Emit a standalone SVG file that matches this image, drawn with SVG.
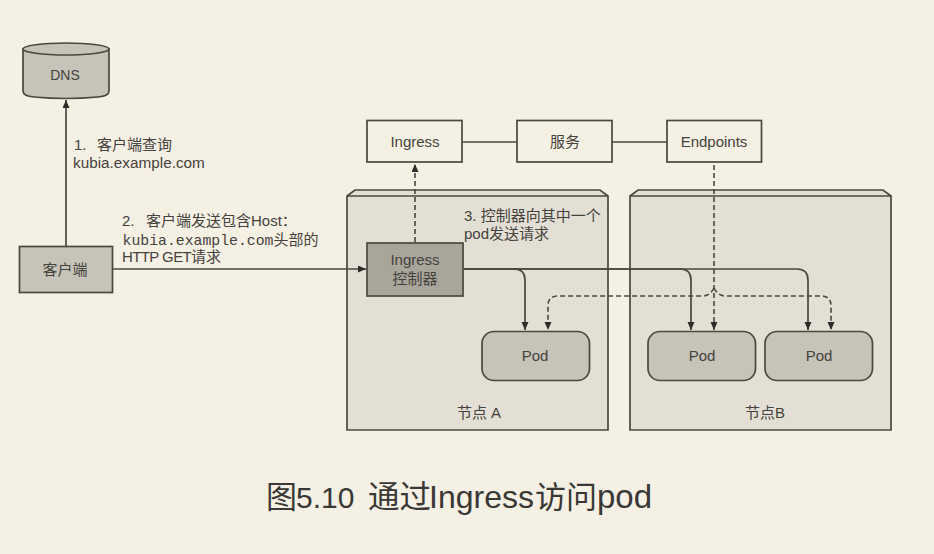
<svg xmlns="http://www.w3.org/2000/svg" width="934" height="554" viewBox="0 0 934 554">
<style>
text{font-family:"Liberation Sans","Noto Sans CJK SC",sans-serif;fill:#45423c;font-size:15px}
.c{text-anchor:middle}
.box{fill:#f5f0e4;stroke:#4a473f;stroke-width:1.7}
.node{fill:#e3dfd4;stroke:#4a473f;stroke-width:1.7}
.pod{fill:#c6c3b9;stroke:#4a473f;stroke-width:1.7}
.line{fill:none;stroke:#4a473f;stroke-width:1.7}
.dash{fill:none;stroke:#4a473f;stroke-width:1.6;stroke-dasharray:5 3}
.mono{font-family:"Liberation Mono","Noto Sans CJK SC",monospace;font-size:14.800px}
</style>
<defs>
<marker id="a" markerUnits="userSpaceOnUse" markerWidth="9" markerHeight="8" refX="8" refY="3.500" orient="auto"><path d="M0 0L8 3.500L0 7Z" fill="#2e2c28"/></marker>
</defs>
<rect width="934" height="554" fill="#f5f0e4"/>
<g id="node-a">
<path class="node" d="M347 196L355 190H600L608 196V430H347Z"/><path class="line" d="M347 196H608"/>
<text class="c" x="479" y="418">节点 A</text>
</g>
<g id="node-b">
<path class="node" d="M630 196L638 190H883L891 196V430H630Z"/><path class="line" d="M630 196H891"/>
<text class="c" x="765" y="418">节点B</text>
</g>
<g id="connectors">
<path class="line" marker-end="url(#a)" d="M66 246V100"/>
<path class="line" marker-end="url(#a)" d="M113 269H366"/>
<path class="line" d="M462 142H517M612 142H667"/>
<path class="dash" marker-end="url(#a)" d="M415 242V164"/>
<path class="line" marker-end="url(#a)" d="M464 269H514Q525 269 525 280V330"/>
<path class="line" marker-end="url(#a)" d="M464 269H680Q691 269 691 280V330"/>
<path class="line" marker-end="url(#a)" d="M464 269H797Q808 269 808 280V330"/>
<path class="dash" marker-end="url(#a)" d="M714 165V330"/>
<path class="dash" marker-end="url(#a)" d="M714 288Q710 296 702 296H558Q548 296 548 306V330"/>
<path class="dash" marker-end="url(#a)" d="M714 288Q718 296 726 296H821Q831 296 831 306V330"/>
</g>
<g id="dns">
<path d="M23 49V91Q23 96 34 97Q66 100 98 97Q109 96 109 91V49Z" fill="#c6c3b9" stroke="#4a473f" stroke-width="1.7"/>
<ellipse cx="66" cy="49" rx="43" ry="6" fill="#c6c3b9" stroke="#4a473f" stroke-width="1.7"/>
<text class="c" x="65" y="80" style="font-size:14px">DNS</text>
</g>
<g id="client">
<rect class="pod" x="19.500" y="246.500" width="93" height="46"/>
<text class="c" x="65" y="275">客户端</text>
</g>
<g id="ingress"><rect class="box" x="367" y="120.500" width="95" height="41.500"/><text class="c" x="415" y="147">Ingress</text></g>
<g id="service"><rect class="box" x="517" y="120.500" width="95" height="41.500"/><text class="c" x="565" y="147">服务</text></g>
<g id="endpoints"><rect class="box" x="667" y="120.500" width="94.500" height="41.500"/><text class="c" x="714" y="147">Endpoints</text></g>
<g id="ingress-controller">
<rect x="367" y="243" width="96" height="53" fill="#a8a59a" stroke="#4a473f" stroke-width="1.7"/>
<text class="c" x="415" y="265">Ingress</text><text class="c" x="415" y="284">控制器</text>
</g>
<g id="pod-a"><rect class="pod" x="482" y="331.500" width="107.500" height="49" rx="12"/><text class="c" x="535" y="361">Pod</text></g>
<g id="pod-b1"><rect class="pod" x="648" y="331.500" width="107.500" height="49" rx="12"/><text class="c" x="702" y="361">Pod</text></g>
<g id="pod-b2"><rect class="pod" x="765" y="331.500" width="107.500" height="49" rx="12"/><text class="c" x="819" y="361">Pod</text></g>
<g id="labels">
<text x="74" y="150">1.<tspan x="97">客户端查询</tspan></text>
<text x="73" y="168" style="font-size:15.300px">kubia.example.com</text>
<text x="122" y="226">2.<tspan x="146">客户端发送包含Host：</tspan></text>
<text x="122.500" y="245"><tspan class="mono">kubia.example.com</tspan>头部的</text>
<text x="122" y="262"><tspan letter-spacing="-0.600">HTTP GET</tspan>请求</text>
<text x="464" y="221">3. 控制器向其中一个</text>
<text x="464" y="239">pod发送请求</text>
</g>
<text x="266" y="508" style="font-size:31px;fill:#3a3834">图<tspan x="296" style="font-size:30px">5.10</tspan> <tspan x="368" style="font-size:31.500px">通过</tspan><tspan x="429" style="font-size:32px">Ingress</tspan><tspan x="535">访问</tspan><tspan x="597" style="font-size:33px">pod</tspan></text>
</svg>
